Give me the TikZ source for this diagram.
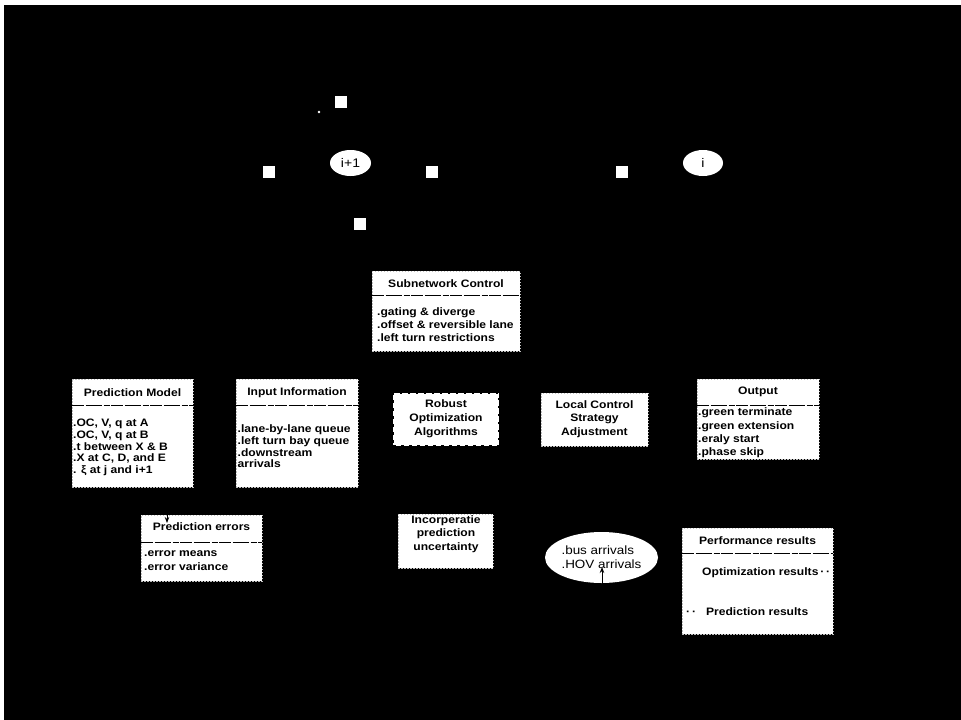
\documentclass[tikz,border=0pt]{standalone}
\usepackage{fontspec}
\usetikzlibrary{shapes.geometric,arrows.meta}
\newfontfamily\bx[FakeStretch=1.12]{Liberation Sans}
\begin{document}
\begin{tikzpicture}[x=1pt,y=-1pt,
  box/.style={fill=white, draw=white!75!black, line width=0.5pt, dash pattern=on 1.5pt off 1.5pt, inner sep=0, outer sep=0, anchor=north west},
  dashbox/.style={box, draw=black, line width=2.6pt, dash pattern=on 2.5pt off 5.5pt},
  divider/.style={draw=black, line width=0.7pt, dash pattern=on 12pt off 1.5pt on 16pt off 2pt on 6pt off 1.5pt},
  ttl/.style={font=\bx\bfseries\fontsize{10.8}{13}\selectfont, inner sep=0, anchor=center},
  body/.style={font=\bx\bfseries\fontsize{10.8}{#1}\selectfont, inner sep=0, align=left, anchor=west},
  cbody/.style={font=\bx\bfseries\fontsize{10.8}{#1}\selectfont, inner sep=0, align=center, anchor=center},
  sq/.style={fill=white, minimum size=12pt, inner sep=0},
  oval/.style={ellipse, fill=white, inner sep=0},
  tip/.style={-{Stealth[length=6pt,width=4.5pt]}, black, line width=0.9pt}
]
\useasboundingbox (0,0) rectangle (961,720);
\fill[white] (0,0) rectangle (961,720);
\fill[black] (4,5) rectangle (961,720);

% top network sketch
\node[sq] (s1) at (341,102) {};
\node[sq] (s2) at (269,172) {};
\node[sq] (s3) at (432,172) {};
\node[sq] (s4) at (360,224) {};
\node[sq] (s5) at (622,172) {};
\node[circle, fill=white, minimum size=2.6pt, inner sep=0] (dot) at (319,112) {};
\node[oval, minimum width=41pt, minimum height=26pt, font=\bx\fontsize{12.5}{14}\selectfont] (n1) at (350.5,163) {i+1};
\node[oval, minimum width=40pt, minimum height=26pt, font=\bx\fontsize{12.5}{14}\selectfont] (n2) at (703,163) {i};

% Subnetwork Control
\node[box, minimum width=148pt, minimum height=80pt] (sub) at (372,271) {};
\node[ttl] (subT) at (446,284) {Subnetwork Control};
\draw[divider] ([yshift=-24pt]sub.north west) -- ([yshift=-24pt]sub.north east);
\node[body=12.7] (subB) at (377,324.5) {.gating \& diverge\\.offset \& reversible lane\\.left turn restrictions};

% Prediction Model
\node[box, minimum width=121pt, minimum height=108pt] (pm) at (72,379) {};
\node[ttl] (pmT) at (132.5,393) {Prediction Model};
\draw[divider] ([yshift=-26pt]pm.north west) -- ([yshift=-26pt]pm.north east);
\node[body=11.7] (pmB) at (73,447.5) {.OC, V, q at A\\.OC, V, q at B\\.t between X \& B\\.X at C, D, and E\\. ξ at j and i+1};

% Input Information
\node[box, minimum width=122pt, minimum height=108pt] (ii) at (236,379) {};
\node[ttl] (iiT) at (297,393) {Input Information};
\draw[divider] ([yshift=-26pt]ii.north west) -- ([yshift=-26pt]ii.north east);
\node[body=11.7] (iiB) at (237.5,446.5) {.lane-by-lane queue\\.left turn bay queue\\.downstream\\arrivals};

% Robust Optimization Algorithms
\node[dashbox, minimum width=106pt, minimum height=53pt] (ro) at (393,393) {};
\node[cbody=14] (roT) at (446,419) {Robust\\Optimization\\Algorithms};

% Local Control Strategy Adjustment
\node[box, minimum width=107pt, minimum height=53pt] (lc) at (541,393) {};
\node[cbody=13.5] (lcT) at (594.5,419) {Local Control\\Strategy\\Adjustment};

% Output
\node[box, minimum width=122pt, minimum height=80pt] (out) at (697,379) {};
\node[ttl] (outT) at (758,392) {Output};
\draw[divider] ([yshift=-26pt]out.north west) -- ([yshift=-26pt]out.north east);
\node[body=13.3] (outB) at (698,433) {.green terminate\\.green extension\\.eraly start\\.phase skip};

% Prediction errors
\node[box, minimum width=121pt, minimum height=66pt] (pe) at (141,515) {};
\node[ttl] (peT) at (201.5,527) {Prediction errors};
\draw[divider] ([yshift=-27pt]pe.north west) -- ([yshift=-27pt]pe.north east);
\node[body=14] (peB) at (144,561) {.error means\\.error variance};

% Incorperatie prediction uncertainty
\node[box, minimum width=95pt, minimum height=54pt] (ipu) at (398,514) {};
\node[cbody=13.5] (ipuT) at (446,534) {Incorperatie\\prediction\\uncertainty};

% bus / HOV ellipse
\node[oval, minimum width=107pt, minimum height=51pt, align=left,
      font=\bx\fontsize{12}{14}\selectfont] (bus) at (601.5,557.5) {.bus arrivals\\.HOV arrivals};

% Performance results
\node[box, minimum width=151pt, minimum height=106pt] (pr) at (682,528) {};
\node[ttl] (prT) at (757.5,541) {Performance results};
\draw[divider] ([yshift=-25pt]pr.north west) -- ([yshift=-25pt]pr.north east);
\node[body=12] (prO) at (702,573) {Optimization results\,·\,·};
\node[body=12] (prP) at (686,612) {·\,·\hspace{10pt}Prediction results};

% arrows
\coordinate (e1) at (167,503);
\coordinate (e1t) at (167,523);
\draw[tip] (e1) -- (e1t);
\coordinate (b1) at (602,592);
\coordinate (b1t) at (602,567);
\draw[tip] (b1) -- (b1t);
\end{tikzpicture}
\end{document}
